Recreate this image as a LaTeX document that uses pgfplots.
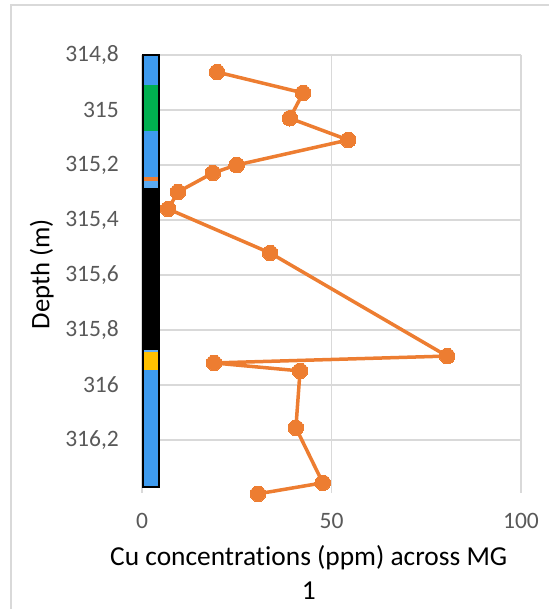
\documentclass[border=0pt]{standalone}
\usepackage{pgfplots}
\pgfplotsset{compat=1.18}
\usepackage{fontspec}
\setmainfont{Carlito}[Ligatures=NoCommon]
\definecolor{orn}{HTML}{ED7D31}
\definecolor{grd}{HTML}{D9D9D9}
\definecolor{tck}{HTML}{595959}
\definecolor{lblue}{HTML}{3E9BEF}
\definecolor{lgreen}{HTML}{00B050}
\definecolor{lyellow}{HTML}{FFC000}
\begin{document}
\begin{tikzpicture}[x=1pt,y=1pt]
\useasboundingbox (0,0) rectangle (548,609);
\draw[grd, line width=1.5pt] (11,-5) -- (11,604) -- (560,604);
\begin{axis}[
  at={(142pt,116pt)}, anchor=south west,
  scale only axis, width=379pt, height=438pt,
  xmin=0, xmax=100, xtick={0,50,100},
  y dir=reverse, ymin=314.8, ymax=316.393,
  ytick={314.8,315,315.2,315.4,315.6,315.8,316,316.2},
  /pgf/number format/use comma,
  /pgf/number format/1000 sep={},
  /pgf/number format/assume math mode=true,
  axis line style={draw=none},
  major tick length=0pt,
  grid=major, major grid style={grd, line width=1.5pt},
  tick label style={font=\fontsize{23.5}{28}\selectfont, text=tck, inner sep=0pt},
  yticklabel style={anchor=east, xshift=-23pt},
  xticklabel style={anchor=north, yshift=-20pt},
  xlabel={Cu concentrations (ppm) across MG\\1},
  xlabel style={at={(axis description cs:0.44,0)}, anchor=north, yshift=-52pt, inner sep=0pt, align=center, font=\fontsize{27.4}{34}\selectfont},
  ylabel={Depth (m)},
  ylabel style={at={([xshift=-88pt]axis description cs:0,0.5)}, anchor=south, inner sep=0pt, font=\fontsize{26.7}{32}\selectfont},
  clip=false,
]
% lithology strip
\addplot[fill=lblue, draw=none] coordinates {(0.2,314.8) (4.45,314.8) (4.45,314.909) (0.2,314.909)} -- cycle;
\addplot[fill=lgreen, draw=none] coordinates {(0.2,314.909) (4.45,314.909) (4.45,315.076) (0.2,315.076)} -- cycle;
\addplot[fill=lblue, draw=none] coordinates {(0.2,315.076) (4.45,315.076) (4.45,315.243) (0.2,315.243)} -- cycle;
\addplot[fill=orn, draw=none] coordinates {(0.2,315.243) (4.45,315.243) (4.45,315.258) (0.2,315.258)} -- cycle;
\addplot[fill=lblue!85!white, draw=none] coordinates {(0.2,315.258) (4.45,315.258) (4.45,315.284) (0.2,315.284)} -- cycle;
\addplot[fill=black, draw=none] coordinates {(0.2,315.284) (4.45,315.284) (4.45,315.873) (0.2,315.873)} -- cycle;
\addplot[fill=lblue!80!white, draw=none] coordinates {(0.2,315.873) (4.45,315.873) (4.45,315.88) (0.2,315.88)} -- cycle;
\addplot[fill=lyellow, draw=none] coordinates {(0.2,315.88) (4.45,315.88) (4.45,315.945) (0.2,315.945)} -- cycle;
\addplot[fill=lblue, draw=none] coordinates {(0.2,315.945) (4.45,315.945) (4.45,316.371) (0.2,316.371)} -- cycle;
\addplot[draw=black, line width=1.5pt] coordinates {(0.2,314.8) (4.45,314.8) (4.45,316.371) (0.2,316.371)} -- cycle;
% Cu data
\addplot[orn, line width=3.5pt, mark=*, mark size=7.8pt, mark options={fill=orn, draw=orn, line width=0pt}] coordinates {
(19.8,314.862) (42.5,314.938) (39.0,315.030) (54.4,315.109) (25.0,315.200)
(18.7,315.229) (9.5,315.298) (6.9,315.360) (33.8,315.520) (80.5,315.895)
(19.0,315.920) (41.7,315.949) (40.6,316.156) (47.7,316.356) (30.6,316.396)
};
\end{axis}
\end{tikzpicture}
\end{document}
